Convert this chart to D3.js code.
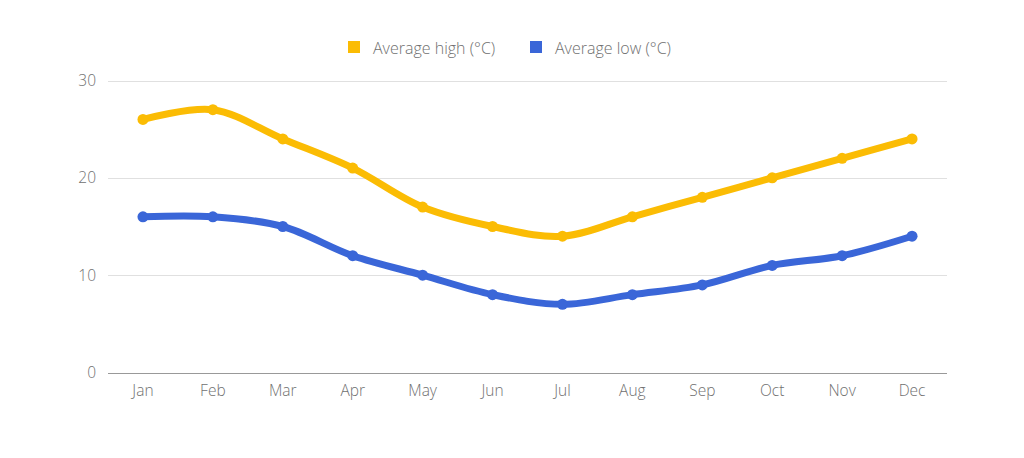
<!DOCTYPE html>
<html><head><meta charset="utf-8">
<script src="https://cdn.jsdelivr.net/npm/d3@7"></script>
<style>body{margin:0;background:#fff;} text{font-family:"Open Sans",sans-serif;font-weight:300;}</style>
</head><body>
<svg id="c" width="1024" height="458"></svg>
<script>
const months = ["Jan","Feb","Mar","Apr","May","Jun","Jul","Aug","Sep","Oct","Nov","Dec"];
const highs = [26,27,24,21,17,15,14,16,18,20,22,24];
const lows = [16,16,15,12,10,8,7,8,9,11,12,14];
const yTicks = [0,10,20,30];
const seriesNames = ["Average high (°C)","Average low (°C)"];
const colors = ["#fbbc04","#3a66d8"];

const svg = d3.select("#c");
const x = d3.scaleBand().domain(months).range([108,947]);
const y = d3.scaleLinear().domain([0,30]).range([372.5,80.5]);

svg.append("g").selectAll("line").data(yTicks).join("line")
  .attr("x1",108).attr("x2",947).attr("y1",d=>Math.round(y(d))).attr("y2",d=>Math.round(y(d)))
  .attr("stroke",d=>d===0?"#999":"#e0e0e0").attr("stroke-width",1).attr("shape-rendering","crispEdges");
svg.append("g").selectAll("text").data(yTicks).join("text")
  .attr("x",96).attr("y",d=>y(d)).attr("dy","0.35em").attr("text-anchor","end")
  .attr("font-size",15.5).attr("fill","#707070").text(d=>d);
svg.append("g").selectAll("text").data(months).join("text")
  .attr("x",d=>x(d)+x.bandwidth()/2).attr("y",396).attr("text-anchor","middle")
  .attr("font-size",15.5).attr("fill","#707070").text(d=>d);

const line = d3.line().x((d,i)=>x(months[i])+x.bandwidth()/2).y(d=>y(d)).curve(d3.curveCatmullRom.alpha(0.5));
[highs,lows].forEach((s,k)=>{
  const g = svg.append("g");
  g.append("path").attr("d",line(s)).attr("fill","none").attr("stroke",colors[k]).attr("stroke-width",7).attr("stroke-linecap","round");
  g.selectAll("circle").data(s).join("circle")
    .attr("cx",(d,i)=>x(months[i])+x.bandwidth()/2).attr("cy",d=>y(d)).attr("r",5.5).attr("fill",colors[k]);
});

const lg = svg.append("g");
const lx = [348,530];
seriesNames.forEach((n,k)=>{
  lg.append("rect").attr("x",lx[k]).attr("y",41).attr("width",12).attr("height",12).attr("fill",colors[k]);
  lg.append("text").attr("x",lx[k]+25).attr("y",48).attr("dy","0.35em").attr("font-size",16).attr("fill","#707070").text(n);
});
</script>
</body></html>
